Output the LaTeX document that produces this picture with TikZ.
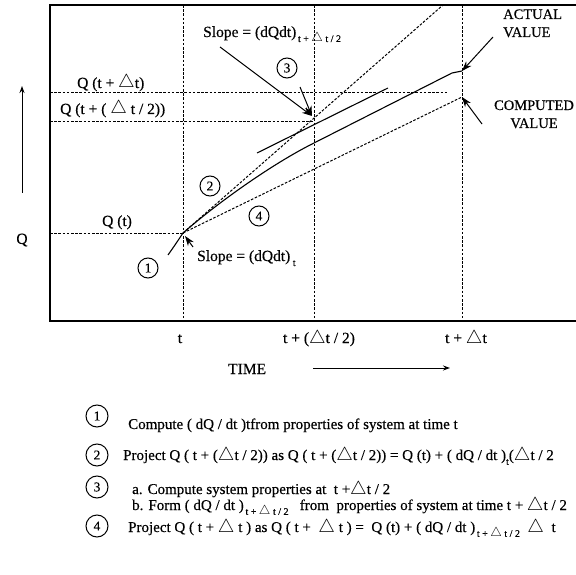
\documentclass[tikz,border=0pt]{standalone}
\usepackage{fontspec}
\setmainfont{Liberation Serif}[FakeBold=0.4]
\usepackage{tikz}
\usetikzlibrary{arrows.meta, positioning, calc}
\newcommand{\dtri}{\scalebox{1.3}{$\triangle$}}
\newcommand{\lowsub}[1]{\raisebox{-0.7ex}{\fontsize{10}{10}\selectfont #1}}

\begin{document}
\begin{tikzpicture}[x=1pt,y=-1pt,
	frame/.style={line width=1.3pt},
	guide/.style={line width=1pt, dash pattern=on 2.6pt off 1.6pt},
	curve/.style={line width=1.1pt},
	ptr/.style={line width=1pt, -{Stealth[length=10pt,width=7pt]}},
	axisptr/.style={line width=1pt, -{Stealth[length=7pt,width=5pt]}},
	lbl/.style={inner sep=0pt, anchor=base west, font=\fontsize{15.5}{18}\selectfont},
	cnum/.style={draw, circle, line width=1pt, minimum size=20pt, inner sep=0pt,
		font=\fontsize{13.5}{13}\selectfont},
	legend/.style={inner sep=0pt, anchor=base west, font=\fontsize{15}{18}\selectfont}
	]
	\useasboundingbox (0,0) rectangle (576,575);
	
	% frame of the plot
	\draw[frame] (576,5) -- (50,5) -- (50,321) -- (576,321);
	
	\coordinate (Pt) at (183,233);
	\coordinate (Pm) at (314,122);
	\coordinate (Pa) at (462,71);
	\coordinate (Pc) at (462,97);
	
	% guide lines
	\draw[guide] (183,5) -- (183,321);
	\draw[guide] (314,5) -- (314,321);
	\draw[guide] (462,5) -- (462,321);
	\draw[guide] (50,93) -- (447,93);
	\draw[guide] (50,122) -- (Pm);
	\draw[guide] (50,233) -- (Pt);
	
	% slopes and curve
	\draw[guide] (Pt) -- (443,5);
	\draw[guide] (Pt) -- (Pc);
	\draw[curve] (257,153) -- (388,88);
	\draw[curve] (168,255) .. controls (175,245) .. (Pt)
	.. controls (215,205) and (270,165) .. (314,143) -- (452,73) -- (Pa);
	
	% labels on the Q side
	\node[lbl] (qdt) at (77,88) {Q (t + \dtri t)};
	\node[lbl] (qhalf) at (60,114) {Q (t + ( \dtri\ t / 2))};
	\node[lbl] (qt) at (102,226) {Q (t)};
	\node[lbl, anchor=center] (qaxis) at (22,240) {Q};
	\coordinate (qtail) at (22,193);
	\coordinate (qhead) at (22,86);
	\draw[axisptr] (qtail) -- (qhead);
	
	% labels on the time side
	\node[lbl, anchor=base] (tt) at (180,343) {t};
	\node[lbl, anchor=base] (thalf) at (319,343) {t + (\dtri t / 2)};
	\node[lbl, anchor=base] (tdt) at (466,343) {t + \dtri t};
	\node[lbl] (time) at (228,374) {TIME};
	\coordinate (ttail) at (313,368);
	\coordinate (thead) at (450,368);
	\draw[axisptr] (ttail) -- (thead);
	
	% slope notes
	\node[lbl] (slopem) at (203,37) {Slope = (dQdt)\lowsub{\,t + \dtri\ t / 2}};
	\node[lbl] (slopet) at (197,261) {Slope = (dQdt)\lowsub{\ t}};
	\coordinate (smtail) at (220,47);
	\coordinate (sttail) at (193,247);
	\draw[ptr] (smtail) -- (312,116);
	\draw[ptr] (sttail) -- (185,236);
	
	% actual and computed
	\node[lbl, font=\fontsize{14.5}{18}\selectfont, align=left] (actual) at (503,37) {ACTUAL\\VALUE};
	\node[lbl, font=\fontsize{14.5}{18}\selectfont, anchor=base, align=center] (computed) at (534,128) {COMPUTED\\VALUE};
	\coordinate (atail) at (493,37);
	\coordinate (ctail) at (482,124);
	\draw[ptr] (atail) -- (Pa);
	\draw[ptr] (ctail) -- (Pc);
	
	% step numbers in the plot
	\node[cnum] (n1) at (148,268) {1};
	\node[cnum] (n2) at (210,186) {2};
	\node[cnum] (n3) at (287,68) {3};
	\node[cnum] (n4) at (259,216) {4};
	\coordinate (n3tail) at (300,87);
	\draw[ptr] (n3tail) -- (312,116);
	
	% legend
	\node[cnum, minimum size=22pt] (l1) at (97,416) {1};
	\node[legend] (s1) at (128,429) {Compute ( dQ / dt )tfrom properties of system at time t};
	
	\node[cnum, minimum size=22pt] (l2) at (97,455) {2};
	\node[legend] (s2) at (123,460) {Project Q ( t + (\dtri t / 2)) as Q ( t + (\dtri t / 2)) = Q (t) + ( dQ / dt )\lowsub{t}(\dtri t / 2};
	
	\node[cnum, minimum size=22pt] (l3) at (97,487) {3};
	\node[legend] (s3a) at (132,494) {a. Compute system properties at\ \ t +\dtri t / 2};
	\node[legend] (s3b) at (132,510) {b. Form ( dQ / dt )\lowsub{\,t + \dtri\ t / 2}\ \ \ from\ \ properties of system at time t + \dtri t / 2};
	
	\node[cnum, minimum size=22pt] (l4) at (97,526) {4};
	\node[legend] (s4) at (128,532) {Project\ Q ( t + \dtri\ t )\ as\ Q ( t +\ \ \dtri\ t )\ =\ \ Q (t)\ + ( dQ / dt )\lowsub{\,t + \dtri\ t / 2}\ \ \dtri\ \ t};
	
\end{tikzpicture}
\end{document}
